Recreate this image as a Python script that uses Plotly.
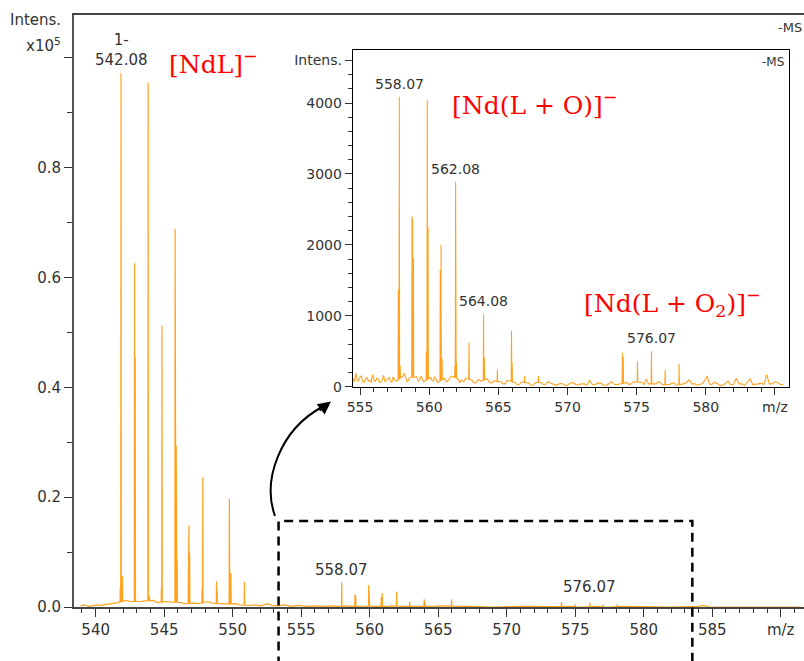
import numpy as np
import plotly.graph_objects as go

# ---- main spectrum (intensity in units of 1e5) ----
main_peak_mz = [541.80, 541.85, 541.90, 541.95,
                542.84, 542.89,
                543.83, 543.87, 543.93,
                544.80, 544.84, 544.89,
                545.80, 545.84, 545.88, 545.95,
                546.77, 546.81, 546.86,
                547.77, 547.82, 547.87,
                548.82, 548.87,
                549.76, 549.81, 549.87,
                550.82, 550.86,
                557.96, 558.00, 558.93, 558.98, 559.93, 559.98,
                560.85, 560.92, 561.97, 562.92, 563.98, 564.04,
                565.00, 565.98, 566.96,
                574.00, 575.00, 576.07, 577.05, 578.07]
main_peak_int = [0.036, 0.972, 0.138, 0.056,
                 0.626, 0.455,
                 0.955, 0.702, 0.020,
                 0.035, 0.512, 0.030,
                 0.689, 0.627, 0.294, 0.087,
                 0.149, 0.149, 0.098,
                 0.035, 0.236, 0.015,
                 0.047, 0.030,
                 0.197, 0.153, 0.062,
                 0.035, 0.046,
                 0.045, 0.028, 0.022, 0.020, 0.040, 0.020,
                 0.018, 0.025, 0.028, 0.010, 0.014, 0.008,
                 0.004, 0.014, 0.003,
                 0.009, 0.005, 0.0075, 0.005, 0.005]
main_base_mz = [538.9, 539.2, 539.5, 539.8, 540.1, 540.4, 540.7, 541.0, 541.3, 541.6,
                542.2, 542.5, 543.2, 543.5, 544.2, 544.5, 545.2, 545.5, 546.2, 546.5,
                547.2, 547.5, 548.2, 548.5, 549.2, 549.5, 550.2, 550.5, 551.3, 551.7,
                552.1, 552.5, 552.9, 553.3, 553.8, 554.3, 554.8, 555.4, 556.0, 556.6,
                557.2, 557.6, 558.4, 558.6, 559.4, 559.6, 560.4, 561.4, 561.6, 562.4,
                563.3, 564.4, 565.4, 566.4, 567.5, 569.0, 571.0, 573.0, 574.5, 575.5,
                576.5, 577.5, 578.5, 580.0, 582.0, 584.0, 584.4, 584.8, 586.0, 588.0,
                590.0, 591.5]
main_base_int = [0.002, 0.004, 0.001, 0.002, 0.004, 0.003, 0.004, 0.006, 0.007, 0.008,
                 0.012, 0.010, 0.010, 0.011, 0.012, 0.008, 0.010, 0.009, 0.008, 0.006,
                 0.007, 0.006, 0.010, 0.007, 0.006, 0.005, 0.006, 0.004, 0.003, 0.004,
                 0.002, 0.006, 0.003, 0.002, 0.004, 0.001, 0.003, 0.001, 0.002, 0.001,
                 0.002, 0.001, 0.002, 0.001, 0.001, 0.002, 0.001, 0.001, 0.002, 0.001,
                 0.001, 0.001, 0.002, 0.001, 0.001, 0.000, 0.001, 0.000, 0.001, 0.000,
                 0.001, 0.000, 0.001, 0.000, 0.000, 0.001, 0.003, 0.000, 0.000, 0.000,
                 0.000, 0.000]

# ---- inset spectrum (absolute intensity) ----
inset_peak_mz = [557.77, 557.84, 557.90,
                 558.76, 558.80, 558.86,
                 559.80, 559.86, 559.92,
                 560.80, 560.86, 560.93,
                 561.86, 561.91, 561.97,
                 562.83, 562.88,
                 563.93, 563.99,
                 564.93,
                 565.95, 566.00,
                 566.90, 567.90,
                 573.97, 574.03,
                 575.06, 576.07, 577.06, 578.07]
inset_peak_int = [1370, 4090, 300,
                  2400, 2320, 1810,
                  500, 4040, 2250,
                  1650, 2000, 400,
                  300, 2890, 350,
                  450, 620,
                  1020, 410,
                  240,
                  790, 340,
                  150, 150,
                  480, 420,
                  360, 500, 234, 320]
inset_base_mz = [554.5, 554.6, 554.7, 554.8, 554.9, 555.0, 555.1, 555.2, 555.3, 555.4,
                 555.5, 555.6, 555.7, 555.8, 555.9, 556.0, 556.1, 556.2, 556.3, 556.4,
                 556.5, 556.6, 556.7, 556.8, 556.9, 557.0, 557.1, 557.2, 557.3, 557.4,
                 557.5, 557.65, 558.1, 558.2, 558.3, 558.4, 558.5, 558.6, 559.1, 559.2,
                 559.3, 559.4, 559.5, 559.6, 560.1, 560.2, 560.3, 560.4, 560.5, 560.6,
                 561.1, 561.2, 561.3, 561.45, 561.6, 562.1, 562.2, 562.35, 562.5, 562.65,
                 563.1, 563.25, 563.4, 563.55, 563.7, 564.2, 564.35, 564.5, 564.65, 565.2,
                 565.35, 565.5, 565.65, 566.2, 566.35, 566.5, 566.7, 567.2, 567.35, 567.5,
                 567.7, 568.1, 568.25, 568.4, 568.6, 568.8, 569.0, 569.2, 569.4, 569.6,
                 569.8, 570.0, 570.2, 570.4, 570.6, 570.8, 571.0, 571.2, 571.4, 571.6,
                 571.8, 572.0, 572.2, 572.4, 572.6, 572.8, 573.0, 573.2, 573.4, 573.6,
                 574.3, 574.45, 574.6, 574.8, 575.4, 575.55, 575.7, 575.85, 576.4, 576.55,
                 576.7, 576.85, 577.4, 577.55, 577.7, 577.85, 578.4, 578.6, 578.8, 579.0,
                 579.2, 579.4, 579.6, 579.8, 580.1, 580.25, 580.4, 580.6, 580.8, 581.0,
                 581.2, 581.4, 581.6, 581.8, 582.0, 582.2, 582.4, 582.6, 582.8, 583.0,
                 583.2, 583.4, 583.6, 583.8, 584.0, 584.2, 584.4, 584.6, 584.8, 585.0,
                 585.2, 585.4, 585.6]
inset_base_int = [120, 70, 190, 90, 80, 140, 150, 70, 60, 110,
                  130, 80, 90, 60, 170, 100, 70, 120, 110, 60,
                  60, 90, 160, 70, 90, 110, 130, 80, 60, 140,
                  100, 80, 150, 190, 110, 70, 90, 130, 140, 80,
                  90, 150, 110, 70, 130, 90, 80, 140, 100, 60,
                  120, 80, 70, 110, 150, 110, 60, 90, 70, 120,
                  90, 50, 60, 100, 80, 110, 60, 50, 80, 70,
                  40, 40, 90, 60, 30, 30, 70, 50, 20, 25,
                  60, 60, 30, 30, 70, 50, 30, 20, 40, 45,
                  20, 20, 50, 60, 30, 25, 40, 40, 20, 90,
                  30, 30, 50, 50, 20, 20, 40, 70, 30, 30,
                  60, 30, 40, 70, 60, 30, 110, 40, 40, 70,
                  60, 30, 30, 50, 50, 20, 40, 60, 100, 40,
                  40, 20, 30, 50, 150, 40, 30, 60, 50, 20,
                  20, 40, 80, 30, 30, 120, 40, 40, 20, 60,
                  110, 30, 30, 40, 50, 30, 170, 40, 40, 70,
                  60, 30, 30]

main_x_ticks = [540, 545, 550, 555, 560, 565, 570, 575, 580, 585, 590]
main_x_text = ["540", "545", "550", "555", "560", "565", "570", "575", "580", "585", "m/z"]
main_y_ticks = [0.0, 0.2, 0.4, 0.6, 0.8, 1.0]
main_y_text = ["0.0", "0.2", "0.4", "0.6", "0.8", ""]
inset_x_ticks = [555, 560, 565, 570, 575, 580, 585]
inset_x_text = ["555", "560", "565", "570", "575", "580", "m/z"]
inset_y_ticks = [0, 1000, 2000, 3000, 4000, 4600]
inset_y_text = ["0", "1000", "2000", "3000", "4000", "Intens."]

main_range = [538.42, 591.7]
inset_range = [554.47, 585.98]
zoom_box = [553.35, 583.55]

W, H = 804, 661
ML, MR, MT, MB = 74, 0, 15, 54
ORANGE = "#FFA31F"
TXT = "#333333"
FONT = "DejaVu Sans"


def profile(bx, by, px, py, foot=0.02):
    bx = np.array(bx, float); by = np.array(by, float)
    px = np.array(px, float); py = np.array(py, float)
    fx = np.concatenate([px - foot, px + foot])
    fy = np.interp(fx, bx, by)
    x = np.concatenate([bx, px, fx])
    y = np.concatenate([by, py, fy])
    o = np.argsort(x, kind="stable")
    return x[o], y[o]


def pxx(p):  # pixel x -> paper
    return (p - ML) / (W - ML - MR)


def pxy(p):  # pixel y -> paper
    return (H - MB - p) / (H - MB - MT)


def data_to_paper(v):
    return (v - main_range[0]) / (main_range[1] - main_range[0])


mx, my = profile(main_base_mz, main_base_int, main_peak_mz, main_peak_int)
ix, iy = profile(inset_base_mz, inset_base_int, inset_peak_mz, inset_peak_int)

fig = go.Figure()
fig.add_trace(go.Scatter(x=mx, y=my, mode="lines", line=dict(color=ORANGE, width=1.2),
                         xaxis="x", yaxis="y", hoverinfo="skip"))
fig.add_trace(go.Scatter(x=ix, y=iy, mode="lines", line=dict(color=ORANGE, width=1.1),
                         xaxis="x2", yaxis="y2", hoverinfo="skip"))

axfont = dict(family=FONT, size=15, color=TXT)
inset_font = dict(family=FONT, size=14, color=TXT)

fig.update_layout(
    width=W, height=H, showlegend=False,
    margin=dict(l=ML, r=MR, t=MT, b=MB),
    paper_bgcolor="white", plot_bgcolor="white",
    xaxis=dict(domain=[0, 1], range=main_range, showgrid=False, zeroline=False,
               showline=True, linecolor="#444", linewidth=1.5, mirror=True,
               tickmode="array", tickvals=main_x_ticks, ticktext=main_x_text,
               ticks="outside", ticklen=8, tickcolor="#333", tickwidth=1.2,
               minor=dict(dtick=1, ticklen=4, ticks="outside", tickcolor="#333"),
               tickfont=axfont),
    yaxis=dict(domain=[0, 1], range=[0, 1.078], showgrid=False, zeroline=False,
               showline=True, linecolor="#555", linewidth=2,
               tickmode="array", tickvals=main_y_ticks, ticktext=main_y_text,
               ticks="outside", ticklen=8, tickcolor="#333", tickwidth=1.2,
               minor=dict(dtick=0.1, tick0=0, ticklen=5, ticks="outside", tickcolor="#333"),
               tickfont=axfont),
    xaxis2=dict(domain=[pxx(352.7), pxx(788.5)], anchor="y2", range=inset_range,
                showgrid=False, zeroline=False, showline=True, linecolor="black",
                linewidth=1, mirror=True,
                tickmode="array", tickvals=inset_x_ticks, ticktext=inset_x_text,
                ticks="outside", ticklen=7, tickcolor="#333",
                minor=dict(dtick=1, ticklen=4, ticks="outside", tickcolor="#333"),
                tickfont=inset_font),
    yaxis2=dict(domain=[pxy(386.7), pxy(49.5)], anchor="x2", range=[0, 4755],
                showgrid=False, zeroline=False, showline=True, linecolor="black",
                linewidth=1, mirror=True,
                tickmode="array", tickvals=inset_y_ticks, ticktext=inset_y_text,
                ticks="outside", ticklen=7, tickcolor="#333",
                minor=dict(dtick=200, tick0=0, ticklen=4, ticks="outside", tickcolor="#333"),
                tickfont=inset_font),
)

ann = []
# axis title of main plot
ann.append(dict(text="Intens.", xref="paper", yref="paper", x=pxx(63), y=pxy(20),
                xanchor="right", yanchor="middle", showarrow=False, font=axfont))
ann.append(dict(text="x10<sup>5</sup>", xref="paper", yref="paper", x=pxx(63), y=pxy(45),
                xanchor="right", yanchor="middle", showarrow=False, font=axfont))
ann.append(dict(text="-MS", xref="paper", yref="paper", x=1.0, y=pxy(28),
                xanchor="right", yanchor="middle", showarrow=False,
                font=dict(family=FONT, size=13, color=TXT)))
ann.append(dict(text="-MS", xref="paper", yref="paper", x=pxx(786), y=pxy(62),
                xanchor="right", yanchor="middle", showarrow=False,
                font=dict(family=FONT, size=12, color=TXT)))

# peak labels (main)
ann.append(dict(text="1-<br>542.08", x=541.85, y=0.972, xref="x", yref="y",
                xanchor="center", yanchor="bottom", yshift=2, showarrow=False, font=axfont))
ann.append(dict(text="558.07", x=557.96, y=0.045, xref="x", yref="y",
                xanchor="center", yanchor="bottom", yshift=1, showarrow=False, font=axfont))
ann.append(dict(text="576.07", x=576.07, y=0.0075, xref="x", yref="y",
                xanchor="center", yanchor="bottom", yshift=5, showarrow=False, font=axfont))
# peak labels (inset)
for lab, xv, yv in [("558.07", 557.84, 4090), ("562.08", 561.91, 2890),
                    ("564.08", 563.93, 1020), ("576.07", 576.07, 500)]:
    ann.append(dict(text=lab, x=xv, y=yv, xref="x2", yref="y2", xanchor="center",
                    yanchor="bottom", yshift=3, showarrow=False,
                    font=dict(family=FONT, size=14, color=TXT)))

# red species labels
red = dict(family="DejaVu Serif", size=25, color="#FF0000")
ann.append(dict(text="[NdL]<sup>−</sup>", xref="paper", yref="paper", x=pxx(213), y=pxy(63),
                xanchor="center", yanchor="middle", showarrow=False, font=red))
ann.append(dict(text="[Nd(L + O)]<sup>−</sup>", xref="paper", yref="paper", x=pxx(535), y=pxy(103),
                xanchor="center", yanchor="middle", showarrow=False, font=red))
ann.append(dict(text="[Nd(L + O<sub>2</sub>)]<sup>−</sup>", xref="paper", yref="paper",
                x=pxx(672), y=pxy(303), xanchor="center", yanchor="middle",
                showarrow=False, font=red))

# arrow head
ann.append(dict(text="", xref="paper", yref="paper", x=pxx(331), y=pxy(401.5),
                ax=-13, ay=10, showarrow=True, arrowhead=2, arrowsize=1.3,
                arrowwidth=2, arrowcolor="black", standoff=0))
fig.update_layout(annotations=ann)

# dashed zoom box and curved arrow
top = pxy(521)
fig.add_shape(type="path", xref="paper", yref="paper",
              path=(f"M {data_to_paper(zoom_box[0])},-0.2 L {data_to_paper(zoom_box[0])},{top} "
                    f"L {data_to_paper(zoom_box[1])},{top} L {data_to_paper(zoom_box[1])},-0.2"),
              line=dict(color="black", width=2.5, dash="9px,6px"))
fig.add_shape(type="path", xref="paper", yref="paper",
              path=(f"M {pxx(275)},{pxy(516)} C {pxx(262)},{pxy(480)} "
                    f"{pxx(280)},{pxy(430)} {pxx(322)},{pxy(407)}"),
              line=dict(color="black", width=2))

fig.write_html("out.html", config={"displayModeBar": False},
               post_script="document.body.style.margin='0';")
